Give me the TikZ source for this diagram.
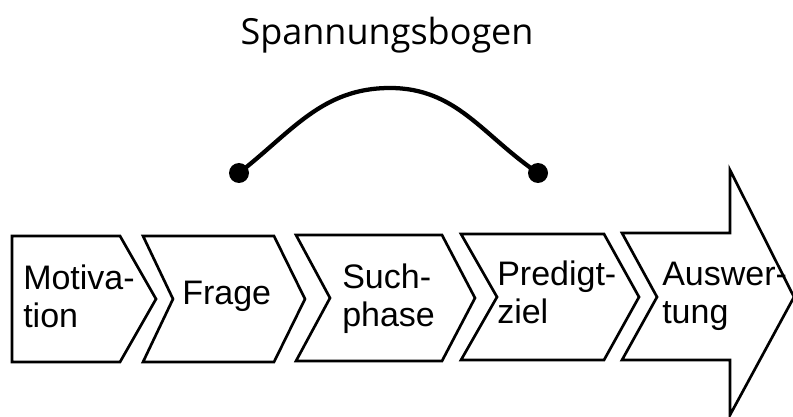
\documentclass[tikz,border=0pt]{standalone}
\usepackage{fontspec}
\setmainfont{Liberation Sans}
\newfontfamily\titlefont{Open Sans}
\begin{document}
\begin{tikzpicture}[x=0.75pt,y=-0.75pt,
  chev/.style={draw=black,line width=2pt,line join=miter,fill=white},
  lbl/.style={anchor=base west,align=left,inner sep=0pt,font=\fontsize{25.5}{28}\selectfont},
  dotnode/.style={circle,fill=black,inner sep=0pt,minimum size=15pt}]
\useasboundingbox (0,0) rectangle (793,417);
% chevrons
\draw[chev] (12,236) -- (120,236) -- (156,299) -- (120,362) -- (12,362) -- cycle;
\draw[chev] (143,236) -- (274,236) -- (305,299) -- (274,362) -- (143,362) -- (173,299) -- cycle;
\draw[chev] (296,235) -- (442,235) -- (475,298) -- (442,361) -- (296,361) -- (330,298) -- cycle;
\draw[chev] (461,234) -- (604,234) -- (639,297) -- (604,360) -- (461,360) -- (497,297) -- cycle;
\draw[chev] (622,233) -- (730,233) -- (730,170) -- (794,297) -- (730,415) -- (730,360) -- (622,360) -- (657,297) -- cycle;
% labels (base = baseline of last line)
\node[lbl] (mot) at (23,327) {Motiva-\\tion};
\node[lbl] (fra) at (182,305) {Frage};
\node[lbl] (such) at (342,326) {Such-\\phase};
\node[lbl] (pred) at (497,323) {Predigt-\\ziel};
\node[lbl] (ausw) at (662,323) {Auswer-\\tung};
% arc
\node[dotnode] (d1) at (239,173) {};
\node[dotnode] (d2) at (538,173) {};
\coordinate (peak) at (390,88);
\draw[line width=3.2pt] (d1.center) to[out=38,in=180] (peak) to[out=0,in=146] (d2.center);
\node[anchor=base,inner sep=0pt,font=\titlefont\fontsize{27}{30}\selectfont] (title) at (387,45) {Spannungsbogen};
\end{tikzpicture}
\end{document}
